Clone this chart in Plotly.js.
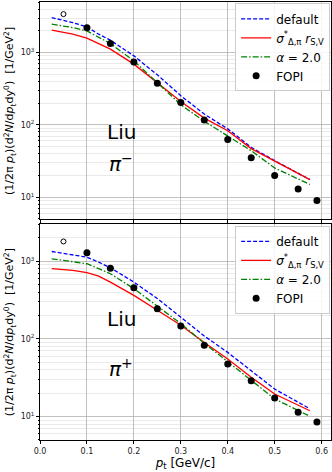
<!DOCTYPE html>
<html><head><meta charset="utf-8">
<script src="https://cdn.plot.ly/plotly-3.0.1.min.js"></script>
<style>html,body{margin:0;padding:0;background:#fff}#plot{width:332px;height:472px}</style>
</head><body><div id="plot"></div>
<script>
// ---- data ----
const curveX = [0.025, 0.07, 0.1, 0.125, 0.15, 0.2, 0.25, 0.3, 0.35, 0.4, 0.45, 0.5, 0.575];
// top panel: pi-
const piMinusDefault = [3040, 2594, 2260, 1795, 1483, 900, 492, 253, 141, 88, 49, 32, 17.5];
const piMinusSigma   = [2036, 1795, 1580, 1330, 1114, 692, 386, 211, 124, 83, 47, 32, 17.5];
const piMinusAlpha   = [2466, 2213, 1991, 1610, 1330, 769, 386, 190, 112, 71, 44, 25.4, 15];
// bottom panel: pi+
const piPlusDefault  = [1331, 1207, 1125, 970, 822, 538, 330, 190, 109, 67, 39, 22.6, 12.6];
const piPlusSigma    = [799, 760, 710, 643, 538, 363, 233, 150, 90, 55, 32, 19.5, 11.9];
const piPlusAlpha    = [1073, 991, 926, 800, 689, 443, 265, 157, 88, 51, 29, 16.9, 10.1];
// FOPI data
const fopiX = [0.1, 0.15, 0.2, 0.25, 0.3, 0.35, 0.4, 0.45, 0.5, 0.55, 0.59];
const fopiPiMinus = [2210, 1330, 738, 376, 204, 117, 63, 35, 20, 13, 9];
const fopiPiPlus  = [1281, 813, 456, 245, 147, 83, 47.4, 29, 17.4, 11.4, 8.5];
const openX = [0.05];
const openPiMinus = [3400];
const openPiPlus = [1792];
const names = ['default', '<i>σ</i><sup>*</sup><sub>Δ,π</sub> <i>r</i><sub>S,V</sub>', '<i>α</i> = 2.0', 'FOPI'];
const yTickVals = [10, 100, 1000];
const yTickText = ['10<sup>1</sup>', '10<sup>2</sup>', '10<sup>3</sup>'];

// ---- build ----
function panel(def, sig, alp, fopi, open, xa, ya, leg) {
  return [
    {x: curveX, y: def, name: names[0], mode: 'lines', line: {color: '#0000ff', dash: '4px,2px', width: 1.3}, xaxis: xa, yaxis: ya, legend: leg},
    {x: curveX, y: sig, name: names[1], mode: 'lines', line: {color: '#ff0000', width: 1.3}, xaxis: xa, yaxis: ya, legend: leg},
    {x: curveX, y: alp, name: names[2], mode: 'lines', line: {color: '#008000', dash: '6px,2px,1.5px,2px', width: 1.3}, xaxis: xa, yaxis: ya, legend: leg},
    {x: fopiX, y: fopi, name: names[3], mode: 'markers', marker: {color: '#000', size: 7}, xaxis: xa, yaxis: ya, legend: leg},
    {x: openX, y: open, mode: 'markers', showlegend: false, marker: {color: '#fff', size: 5, line: {color: '#000', width: 1}}, xaxis: xa, yaxis: ya}
  ];
}
const traces = panel(piMinusDefault, piMinusSigma, piMinusAlpha, fopiPiMinus, openPiMinus, 'x2', 'y', 'legend')
  .concat(panel(piPlusDefault, piPlusSigma, piPlusAlpha, fopiPiPlus, openPiPlus, 'x', 'y2', 'legend2'));

const minorVals = [];
for (let d = 1; d <= 1000; d *= 10) for (let k = 2; k <= 9; k++) minorVals.push(k * d);

const font = {family: 'DejaVu Sans, sans-serif', color: '#000'};
const xBase = {range: [0, 0.62], dtick: 0.1, tick0: 0, showgrid: true, gridcolor: '#b0b0b0', gridwidth: 0.8,
  showline: true, linecolor: '#000', linewidth: 1, mirror: true, ticks: 'outside', ticklen: 3, tickcolor: '#000',
  tickfont: {family: font.family, size: 8, color: '#222'}, zeroline: false, tickformat: '.1f'};
function yAx(range, domain, xa) {
  return {type: 'log', range: range, domain: domain, anchor: xa, tickvals: yTickVals, ticktext: yTickText,
    showgrid: true, gridcolor: '#b0b0b0', gridwidth: 0.8, showline: true, linecolor: '#000', linewidth: 1, mirror: true,
    ticks: 'outside', ticklen: 3, tickcolor: '#000', tickfont: {family: font.family, size: 8, color: '#222'},
    minor: {tickvals: minorVals, showgrid: true, gridcolor: '#dcdcdc', gridwidth: 0.6, ticks: 'outside', ticklen: 1.5, tickcolor: '#000'}};
}
const yTitle = '(1/2π <i>p</i><sub>t</sub>)(d<sup>2</sup><i>N</i>/d<i>p</i><sub>t</sub>dy<sup>0</sup>)  [1/GeV<sup>2</sup>]';
const legBase = {bgcolor: 'rgba(255,255,255,0.85)', bordercolor: '#cccccc', borderwidth: 1,
  font: {family: font.family, size: 12, color: '#000'}, xanchor: 'right', yanchor: 'top', x: 0.997, tracegroupgap: 0};

const layout = {
  width: 332, height: 472, margin: {l: 40, r: 1, t: 2, b: 32},
  paper_bgcolor: '#fff', plot_bgcolor: '#fff', font: font,
  xaxis: Object.assign({}, xBase, {anchor: 'y2', title: {text: '<i>p</i><sub>t</sub> [GeV/c]', font: {size: 12}, standoff: 2}}),
  xaxis2: Object.assign({}, xBase, {anchor: 'y', matches: 'x', showticklabels: false}),
  yaxis: yAx([Math.log10(5), Math.log10(5000)], [0.5046, 1], 'x2'),
  yaxis2: yAx([Math.log10(5), Math.log10(3000)], [0, 0.493], 'x'),
  legend: Object.assign({}, legBase, {y: 0.997}),
  legend2: Object.assign({}, legBase, {y: 0.489}),
  showlegend: true,
  annotations: [
    {text: yTitle, xref: 'paper', yref: 'paper', x: -0.105, y: 0.752, textangle: -90, showarrow: false, xanchor: 'center', yanchor: 'middle', font: {size: 11}},
    {text: yTitle, xref: 'paper', yref: 'paper', x: -0.105, y: 0.247, textangle: -90, showarrow: false, xanchor: 'center', yanchor: 'middle', font: {size: 11}},
    {text: 'Liu', xref: 'paper', yref: 'paper', x: (105 - 40) / 291, y: (440 - 118) / 438, showarrow: false, font: {size: 20}},
    {text: '<i>π</i><sup>−</sup>', xref: 'paper', yref: 'paper', x: (107 - 40) / 291, y: (440 - 163) / 438, showarrow: false, font: {size: 20}},
    {text: 'Liu', xref: 'paper', yref: 'paper', x: (105 - 40) / 291, y: (440 - 333) / 438, showarrow: false, font: {size: 20}},
    {text: '<i>π</i><sup>+</sup>', xref: 'paper', yref: 'paper', x: (107 - 40) / 291, y: (440 - 383) / 438, showarrow: false, font: {size: 20}}
  ]
};
Plotly.newPlot('plot', traces, layout, {staticPlot: true, displayModeBar: false});
</script></body></html>
